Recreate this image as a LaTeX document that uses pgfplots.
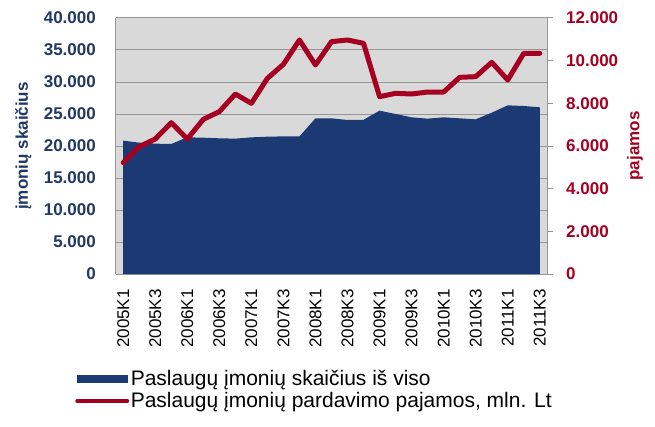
\documentclass[border=0pt]{standalone}
\usepackage{fontspec}
\setmainfont{Liberation Sans}
\usepackage{pgfplots}
\pgfplotsset{compat=1.18}
\definecolor{navy}{RGB}{27,58,115}
\definecolor{navytxt}{RGB}{31,56,100}
\definecolor{darkred}{RGB}{165,0,33}
\definecolor{bggray}{RGB}{217,217,217}
\definecolor{gridgray}{RGB}{150,150,150}
\begin{document}
\begin{tikzpicture}
\begin{axis}[
  name=ax,
  scale only axis,
  width=431bp, height=256bp,
  xmin=-0.45, xmax=26.45,
  ymin=0, ymax=40000,
  scaled y ticks=false,
  axis background/.style={fill=bggray},
  axis line style={gridgray, line width=1bp},
  axis x line*=bottom,
  axis y line*=left,
  ymajorgrids,
  grid style={gridgray, line width=1bp},
  ytick={0,5000,10000,15000,20000,25000,30000,35000,40000},
  yticklabels={0,5.000,10.000,15.000,20.000,25.000,30.000,35.000,40.000},
  ytick style={draw=none},
  yticklabel style={font=\bfseries\fontsize{17bp}{20bp}\selectfont, text=navytxt, inner sep=0pt, xshift=-20bp},
  xtick={0,2,...,26},
  xticklabels={2005K1,2005K3,2006K1,2006K3,2007K1,2007K3,2008K1,2008K3,2009K1,2009K3,2010K1,2010K3,2011K1,2011K3},
  xtick style={draw=none},
  xticklabel style={font=\fontsize{17bp}{20bp}\selectfont, rotate=90, anchor=east, inner sep=0pt, xshift=-15bp},
  ylabel={įmonių skaičius},
  ylabel style={font=\bfseries\fontsize{17bp}{20bp}\selectfont, text=navytxt, at={(axis description cs:-0.215,0.5)}, anchor=center},
  /pgf/number format/assume math mode=true,
]
\addplot[fill=navy, draw=none] table {
x y
0 20833
1 20520
2 20365
3 20312
4 21354
5 21300
6 21200
7 21150
8 21350
9 21458
10 21500
11 21500
12 24323
13 24323
14 24062
15 24100
16 25520
17 25000
18 24479
19 24270
20 24479
21 24323
22 24167
23 25208
24 26354
25 26250
26 26042
} \closedcycle;
\end{axis}
\begin{axis}[
  scale only axis,
  width=431bp, height=256bp,
  xmin=-0.45, xmax=26.45,
  ymin=0, ymax=12000,
  scaled y ticks=false,
  axis x line=none,
  axis y line*=right,
  axis line style={gridgray, line width=1bp},
  ytick={0,2000,4000,6000,8000,10000,12000},
  yticklabels={0,2.000,4.000,6.000,8.000,10.000,12.000},
  tick align=outside,
  major tick length=6bp,
  ytick style={gridgray, line width=1bp},
  yticklabel style={font=\bfseries\fontsize{17bp}{20bp}\selectfont, text=darkred, inner sep=0pt, xshift=13bp},
  ylabel={pajamos},
  ylabel style={font=\bfseries\fontsize{17bp}{20bp}\selectfont, text=darkred, at={(axis description cs:1.204,0.5)}, anchor=center},
  /pgf/number format/assume math mode=true,
  legend style={at={(axis description cs:-0.095,-0.368)}, anchor=north west, draw=none, fill=none,
    font=\fontsize{21bp}{24bp}\selectfont, row sep=3bp, inner sep=0pt,
    nodes={inner sep=1.5bp}},
  legend cell align=left,
]
\addlegendimage{legend image code/.code={\fill[navy] (0bp,-3.5bp) rectangle (50bp,3.5bp);}}
\addplot[darkred, line width=5bp, line join=round, line cap=round,
  legend image code/.code={\draw[darkred, line width=4bp, line cap=round] (0bp,0bp) -- (50bp,0bp);}] table {
x y
0 5218
1 5969
2 6328
3 7094
4 6328
5 7250
6 7610
7 8437
8 8000
9 9172
10 9828
11 10969
12 9797
13 10891
14 10969
15 10812
16 8312
17 8469
18 8437
19 8531
20 8531
21 9219
22 9250
23 9922
24 9094
25 10344
26 10344
};
\legend{Paslaugų įmonių skaičius iš viso, {Paslaugų įmonių pardavimo pajamos, mln. Lt}}
\end{axis}
\path ([xshift=-116bp,yshift=-153bp]ax.south west) rectangle ([xshift=108bp,yshift=18bp]ax.north east);
\end{tikzpicture}
\end{document}
